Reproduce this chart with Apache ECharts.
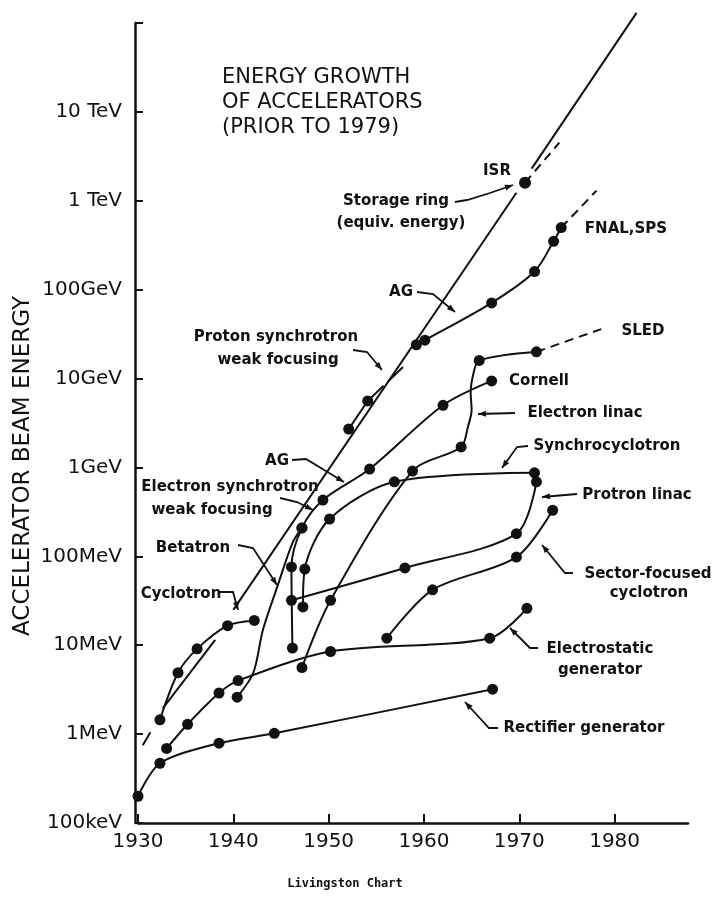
<!DOCTYPE html>
<html><head><meta charset="utf-8">
<script src="https://cdn.jsdelivr.net/npm/echarts@6/dist/echarts.min.js"></script>
<style>html,body{margin:0;padding:0;background:#fff}#c{width:718px;height:918px}</style>
</head><body><div id="c"></div>
<script>
// ---- data: [year, energy in MeV] ----
const rectifier = [[1930.0,0.20],[1932.3,0.47],[1938.5,0.79],[1944.3,1.02],[1967.2,3.2]];
const electrostatic = [[1933.0,0.69],[1935.2,1.29],[1938.5,2.9],[1940.5,4.0],[1950.2,8.5],[1966.9,12],[1970.8,26]];
const cyclotron = [[1932.3,1.45],[1934.2,4.9],[1936.2,9.1],[1939.4,16.6],[1942.2,19]];
const betatron = [[1940.4,2.6],[1942.1,4.9],[1943.1,14.8],[1944.6,45],[1946.2,141],[1947.2,209]];
const betatronDots = [0,5];
const synchrocyclotron = [[1947.3,27],[1947.5,72],[1950.1,263],[1956.9,690],[1971.6,870]];
const protonLinac = [[1946.1,32],[1958.0,74],[1969.7,180],[1971.8,690]];
const sectorCyclotron = [[1956.1,12],[1960.9,42],[1969.7,98],[1973.5,330]];
const electronSynchrotron = [[1946.2,9.3],[1946.1,76],[1947.2,209],[1949.4,430],[1954.3,960],[1962.0,5000],[1967.1,9400]];
const electronLinac = [[1947.2,5.6],[1950.2,32],[1958.8,910],[1963.9,1700],[1964.6,2840],[1965.0,4430],[1964.9,6870],[1965.2,11500],[1965.8,16000],[1971.8,20000]];
const electronLinacDots = [0,1,2,3,8,9];
const sledExtension = [[1971.8,20000],[1978.6,36000]];
const protonSynchWeak = [[1952.1,2700],[1954.1,5600],[1957.8,13500]];
const protonSynchAG = [[1959.2,24000],[1960.1,27000],[1967.1,71000],[1971.6,160000],[1973.6,350000],[1974.4,500000]];
const fnalExtension = [[1974.4,500000],[1978.1,1.3e6]];
const storageRing = [[1970.6,1.6e6]];
const storageExtension = [[1970.6,1.6e6],[1974.2,4.5e6]];
const envelope1 = [[1930.5,0.75],[1931.3,1.05]];
const envelope2 = [[1932.6,1.95],[1938.1,11.5]];
const envelope3 = [[1940.0,25],[1969.7,1.23e6]];
const envelope4 = [[1971.3,2.3e6],[1982.3,1.3e8]];
const yTickLabels = ['100keV','1MeV','10MeV','100MeV','1GeV','10GeV','100GeV','1 TeV','10 TeV',''];
const xTickLabels = ['1930','1940','1950','1960','1970','1980'];

const chart = echarts.init(document.getElementById('c'), null, {renderer:'canvas'});
const BLACK = '#111';
function dotted(data, dots) {
  if (!dots) return data;
  return data.map(function(p, i){ return dots.indexOf(i) >= 0 ? p : {value:p, symbol:'none'}; });
}
function curve(data, opt, dots) {
  return Object.assign({type:'line', data:dotted(data, dots), smooth:0.3, symbol:'circle', symbolSize:11,
    itemStyle:{color:BLACK}, lineStyle:{color:BLACK, width:2}, animation:false, z:3}, opt||{});
}
function plain(data, opt) {
  return curve(data, Object.assign({symbol:'none', smooth:false}, opt||{}));
}
const dash = {color:BLACK, width:2, type:[9,6]};
const series = [
  curve(rectifier), curve(electrostatic), curve(cyclotron), curve(betatron, null, betatronDots),
  curve(synchrocyclotron), curve(protonLinac), curve(sectorCyclotron),
  curve(electronSynchrotron), curve(electronLinac, null, electronLinacDots),
  plain(sledExtension, {lineStyle:dash}),
  curve(protonSynchWeak.slice(0,2)),
  plain(protonSynchWeak.slice(1), {lineStyle:{color:BLACK,width:2,type:[22,6]}}),
  curve(protonSynchAG),
  plain(fnalExtension, {lineStyle:dash}),
  curve(storageRing, {symbolSize:12}),
  plain(storageExtension, {lineStyle:dash}),
  plain(envelope1), plain(envelope2), plain(envelope3), plain(envelope4, {clip:false})
];

const FONT = 'DejaVu Sans';
function txt(s, x, y, size, opt) {
  return {type:'text', x:x, y:y, style:{text:s, fill:BLACK, font:(opt&&opt.weight||'bold')+' '+size+'px "'+FONT+'"', textAlign:(opt&&opt.align)||'center', textVerticalAlign:'middle'}};
}
function leader(pts) {
  const n = pts.length, a = pts[n-2], b = pts[n-1];
  const dx = b[0]-a[0], dy = b[1]-a[1], L = Math.hypot(dx,dy), ux = dx/L, uy = dy/L;
  const len = 8, hw = 3;
  const bx = b[0]-ux*len, by = b[1]-uy*len;
  return [
    {type:'polyline', shape:{points:pts}, style:{stroke:BLACK, lineWidth:1.8, fill:null}},
    {type:'polygon', shape:{points:[b,[bx-uy*hw,by+ux*hw],[bx+uy*hw,by-ux*hw]]}, style:{fill:BLACK}}
  ];
}
const graphics = [
  txt('ENERGY GROWTH',222,78,21,{align:'left',weight:'normal'}),
  txt('OF ACCELERATORS',222,103,21,{align:'left',weight:'normal'}),
  txt('(PRIOR TO 1979)',222,128,21,{align:'left',weight:'normal'}),
  txt('ISR',497,171,15), txt('Storage ring',396,201,15), txt('(equiv. energy)',401,223,15),
  txt('FNAL,SPS',626,229,15), txt('SLED',643,331,15), txt('Cornell',539,381,15),
  txt('Electron linac',585,413,15), txt('Synchrocyclotron',607,446,15),
  txt('Protron linac',637,495,15), txt('Sector-focused',648,574,15), txt('cyclotron',649,593,15),
  txt('Electrostatic',600,649,15), txt('generator',600,670,15), txt('Rectifier generator',584,728,15),
  txt('Proton synchrotron',276,337,15), txt('weak focusing',278,360,15),
  txt('AG',401,292,15), txt('AG',277,461,15),
  txt('Electron synchrotron',230,487,15), txt('weak focusing',212,510,15),
  txt('Betatron',193,548,15), txt('Cyclotron',181,594,15),
  {type:'text', x:345, y:884, style:{text:'Livingston Chart', fill:BLACK, font:'bold 12px "DejaVu Sans Mono"', textAlign:'center', textVerticalAlign:'middle'}},
  {type:'text', x:23, y:466, rotation:Math.PI/2, style:{text:'ACCELERATOR BEAM ENERGY', fill:BLACK, font:'23px "'+FONT+'"', textAlign:'center', textVerticalAlign:'middle'}}
].concat(
  leader([[455,202],[467,200],[490,193],[513,185]]),
  leader([[515,413],[478,414]]),
  leader([[528,446],[517,447],[502,468]]),
  leader([[577,494],[542,497]]),
  leader([[573,573],[565,573],[542,545]]),
  leader([[538,648],[530,648],[510,628]]),
  leader([[498,728],[489,728],[465,702]]),
  leader([[353,350],[367,352],[382,370]]),
  leader([[417,292],[433,294],[455,312]]),
  leader([[292,460],[306,459],[344,482]]),
  leader([[280,498],[297,502],[313,510]]),
  leader([[238,545],[253,548],[277,585]]),
  leader([[220,592],[233,592],[238,610]])
);

chart.setOption({
  animation:false,
  backgroundColor:'#fff',
  grid:{left:138, right:30, top:23, bottom:95, containLabel:false},
  xAxis:{type:'value', min:1930, max:1987.7, interval:10,
    axisLine:{lineStyle:{color:BLACK,width:2.5}},
    axisTick:{inside:true, length:9, lineStyle:{color:BLACK,width:2}},
    splitLine:{show:false},
    axisLabel:{margin:9, color:BLACK, fontSize:20, fontFamily:FONT, showMaxLabel:false,
      formatter:function(v){ const i = Math.round((v-1930)/10); return Math.abs(v-1930-i*10)<0.01 ? (xTickLabels[i]||'') : ''; }}},
  yAxis:{type:'log', logBase:10, min:0.1, max:1e8, offset:3,
    axisLine:{lineStyle:{color:BLACK,width:2.5}},
    axisTick:{inside:true, length:8, lineStyle:{color:BLACK,width:2}},
    splitLine:{show:false}, minorTick:{show:false},
    axisLabel:{margin:13, color:BLACK, fontSize:20, fontFamily:FONT,
      formatter:function(v){ return yTickLabels[Math.round(Math.log10(v))+1] || ''; }}},
  series:series,
  graphic:graphics
});
</script></body></html>
